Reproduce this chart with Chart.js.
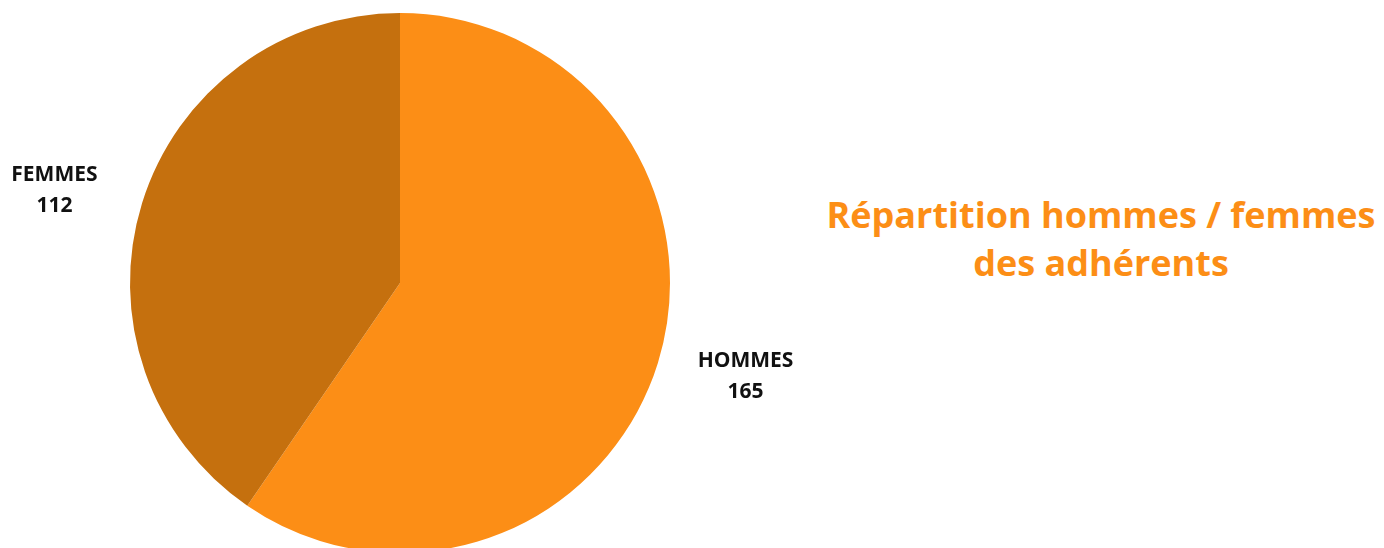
<!DOCTYPE html>
<html>
<head>
<meta charset="utf-8">
<script src="https://cdn.jsdelivr.net/npm/chart.js"></script>
<style>
  html, body { margin: 0; padding: 0; background: #fff; overflow: hidden; }
  body { width: 1384px; height: 548px; position: relative; font-family: "Open Sans", sans-serif; }
  #wrap { position: absolute; left: 0; top: 0; width: 800px; height: 566px; }
  #title {
    position: absolute; left: 801px; top: 191px; width: 600px;
    text-align: center; color: #fc8e16; font-weight: bold;
    font-size: 36px; line-height: 48px; white-space: nowrap;
  }
</style>
</head>
<body>
<div id="wrap"><canvas id="pieChart"></canvas></div>
<div id="title">Répartition hommes / femmes<br>des adhérents</div>
<script>
const categories = ["HOMMES", "FEMMES"];
const counts = [165, 112];
const sliceColors = ["#fc8e16", "#c5700e"];

// labels placed outside each slice, along its middle angle
const outsideLabels = {
  id: "outsideLabels",
  afterDatasetsDraw(chart) {
    const ctx = chart.ctx;
    const meta = chart.getDatasetMeta(0);
    ctx.save();
    ctx.fillStyle = "#111";
    ctx.font = "bold 21px 'Open Sans'";
    ctx.textAlign = "center";
    ctx.textBaseline = "middle";
    meta.data.forEach((arc, i) => {
      const mid = (arc.startAngle + arc.endAngle) / 2;
      const r = arc.outerRadius * 1.34;
      const x = arc.x + Math.cos(mid) * r;
      const y = arc.y + Math.sin(mid) * r * 0.87;
      ctx.fillText(categories[i], x, y - 15);
      ctx.fillText(String(counts[i]), x, y + 16);
    });
    ctx.restore();
  }
};

new Chart(document.getElementById("pieChart"), {
  type: "pie",
  data: {
    labels: categories,
    datasets: [{
      data: counts,
      backgroundColor: sliceColors,
      borderWidth: 0
    }]
  },
  options: {
    responsive: true,
    maintainAspectRatio: false,
    animation: false,
    layout: { padding: { top: 13, bottom: 13 } },
    plugins: {
      legend: { display: false },
      tooltip: { enabled: false }
    }
  },
  plugins: [outsideLabels]
});
</script>
</body>
</html>
